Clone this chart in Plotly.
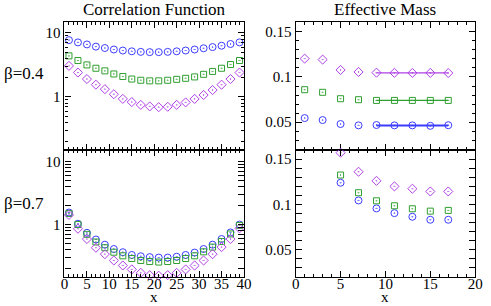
import plotly.graph_objects as go

# ---------------- data ----------------
x_corr = [1, 3, 5, 7, 9, 11, 13, 15, 17, 19, 21, 23, 25, 27, 29, 31, 33, 35, 37, 39]

corr04_blue = [7.7, 7.1, 6.6, 6.1, 5.8, 5.5, 5.3, 5.15, 5.05, 5.0, 5.0, 5.05, 5.15, 5.3, 5.5, 5.75, 6.0, 6.3, 6.7, 7.1]
corr04_green = [4.37, 3.7, 3.16, 2.8, 2.55, 2.28, 2.08, 1.9, 1.82, 1.78, 1.78, 1.82, 1.88, 1.95, 2.05, 2.25, 2.5, 2.8, 3.2, 3.7]
corr04_purple = [3.05, 2.4, 1.9, 1.55, 1.32, 1.1, 0.93, 0.83, 0.75, 0.71, 0.69, 0.70, 0.75, 0.82, 0.93, 1.07, 1.28, 1.55, 1.9, 2.4]

corr07_blue = [1.55, 1.03, 0.74, 0.58, 0.48, 0.41, 0.365, 0.33, 0.315, 0.305, 0.30, 0.30, 0.31, 0.33, 0.36, 0.41, 0.48, 0.59, 0.75, 1.0]
corr07_green = [1.5, 1.0, 0.70, 0.53, 0.43, 0.365, 0.32, 0.29, 0.27, 0.26, 0.255, 0.26, 0.27, 0.29, 0.32, 0.37, 0.44, 0.54, 0.71, 0.97]
corr07_purple = [1.42, 0.86, 0.59, 0.43, 0.34, 0.27, 0.225, 0.195, 0.172, 0.158, 0.155, 0.158, 0.172, 0.195, 0.225, 0.27, 0.34, 0.44, 0.59, 0.87]

x_mass04 = [1, 3, 5, 7, 9, 11, 13, 15, 17]
mass04_blue = [0.0544, 0.0522, 0.0478, 0.0463, 0.0467, 0.0463, 0.0463, 0.0458, 0.0465]
mass04_green = [0.0859, 0.0830, 0.0759, 0.0748, 0.0740, 0.0740, 0.0740, 0.0740, 0.0740]
mass04_purple = [0.1204, 0.1193, 0.1078, 0.1056, 0.1048, 0.1046, 0.1045, 0.1045, 0.1044]

fit_x = [9, 17]
fit04_blue = 0.0463
fit04_green = 0.0740
fit04_purple = 0.1045

x_mass07 = [5, 7, 9, 11, 13, 15, 17]
mass07_blue = [0.1239, 0.1044, 0.0956, 0.0904, 0.0864, 0.0831, 0.0831]
mass07_green = [0.1324, 0.1129, 0.1040, 0.0985, 0.0952, 0.0926, 0.0934]
mass07_purple = [0.157, 0.136, 0.126, 0.1199, 0.1173, 0.1143, 0.1143]

x_ticks_corr = [0, 5, 10, 15, 20, 25, 30, 35, 40]
x_ticks_mass = [0, 5, 10, 15, 20]
y_ticks_mass = [0.05, 0.1, 0.15]
y_ticklabels_mass = ["0.05", "0.1", "0.15"]
y_ticks_corr = [1, 10]
y_ticklabels_corr = ["1", "10"]

BLUE = "#3c3cff"
GREEN = "#2f9f2f"
PURPLE = "#b040e6"
FONT = "Liberation Serif"

W, H = 491, 306


def px_x(a, b):
    return [a / W, b / W]


def px_y(top, bottom):
    return [1 - bottom / H, 1 - top / H]


fig = go.Figure()


def pts(x, y, color, symbol, size, xa, ya):
    fig.add_trace(go.Scatter(
        x=x, y=y, mode="markers", xaxis=xa, yaxis=ya, showlegend=False,
        marker=dict(symbol=symbol, size=size, color=color,
                    line=dict(color=color, width=1)),
        cliponaxis=False,
    ))


CS, SS, DS = 7, 6, 7

# top-left
pts(x_corr, corr04_blue, BLUE, "circle-open-dot", CS, "x", "y")
pts(x_corr, corr04_green, GREEN, "square-open-dot", SS, "x", "y")
pts(x_corr, corr04_purple, PURPLE, "diamond-open-dot", DS, "x", "y")
# bottom-left
pts(x_corr, corr07_blue, BLUE, "circle-open-dot", CS, "x3", "y3")
pts(x_corr, corr07_green, GREEN, "square-open-dot", SS, "x3", "y3")
pts(x_corr, corr07_purple, PURPLE, "diamond-open-dot", DS, "x3", "y3")

# top-right fits
for val, col, w in [(fit04_blue, BLUE, 2), (fit04_green, GREEN, 1.2), (fit04_purple, PURPLE, 1.2)]:
    fig.add_trace(go.Scatter(x=fit_x, y=[val, val], mode="lines", xaxis="x2", yaxis="y2",
                             showlegend=False, line=dict(color=col, width=w)))
pts(x_mass04, mass04_blue, BLUE, "circle-open-dot", CS, "x2", "y2")
pts(x_mass04, mass04_green, GREEN, "square-open-dot", SS, "x2", "y2")
pts(x_mass04, mass04_purple, PURPLE, "diamond-open-dot", DS, "x2", "y2")
# bottom-right
pts(x_mass07, mass07_blue, BLUE, "circle-open-dot", CS, "x4", "y4")
pts(x_mass07, mass07_green, GREEN, "square-open-dot", SS, "x4", "y4")
pts(x_mass07, mass07_purple, PURPLE, "diamond-open-dot", DS, "x4", "y4")

tickfont = dict(family=FONT, size=15, color="black")

common = dict(showline=True, linecolor="black", linewidth=1.2, mirror="allticks",
              ticks="inside", ticklen=6, tickcolor="black", tickwidth=1,
              showgrid=False, zeroline=False, tickfont=tickfont)

log_minor = [v * m for v in (0.1, 1, 10) for m in range(2, 10)]
minor_lin = dict(ticks="inside", ticklen=3, tickcolor="black")

lx = px_x(62, 246)
rx = px_x(299, 483)
ty = px_y(22, 150)
by = px_y(150, 277)
label_pos = 1 - 273 / H  # tick labels sit a little closer to the bottom axis

label_axis = dict(showline=False, ticks="", showgrid=False, zeroline=False,
                  tickfont=tickfont, anchor="free", position=label_pos)

fig.update_layout(
    width=W, height=H, margin=dict(l=0, r=0, t=0, b=0),
    plot_bgcolor="white", paper_bgcolor="white",
    xaxis=dict(domain=lx, range=[0, 40], anchor="y", tickvals=x_ticks_corr, showticklabels=False,
               minor=dict(dtick=1, **minor_lin), **common),
    yaxis=dict(domain=ty, type="log", range=[-0.83, 1.17], anchor="x",
               tickvals=y_ticks_corr, ticktext=y_ticklabels_corr,
               minor=dict(tickvals=log_minor, **minor_lin), **common),
    xaxis2=dict(domain=rx, range=[0, 20], anchor="y2", tickvals=x_ticks_mass, showticklabels=False,
                minor=dict(dtick=1, **minor_lin), **common),
    yaxis2=dict(domain=ty, range=[0.019, 0.161], anchor="x2",
                tickvals=y_ticks_mass, ticktext=y_ticklabels_mass,
                minor=dict(dtick=0.01, **minor_lin), **common),
    xaxis3=dict(domain=lx, range=[0, 40], anchor="y3", tickvals=x_ticks_corr, showticklabels=False,
                minor=dict(dtick=1, **minor_lin), **common),
    yaxis3=dict(domain=by, type="log", range=[-0.83, 1.18], anchor="x3",
                tickvals=y_ticks_corr, ticktext=y_ticklabels_corr,
                minor=dict(tickvals=log_minor, **minor_lin), **common),
    xaxis4=dict(domain=rx, range=[0, 20], anchor="y4", tickvals=x_ticks_mass, showticklabels=False,
                minor=dict(dtick=1, **minor_lin), **common),
    yaxis4=dict(domain=by, range=[0.02, 0.16], anchor="x4",
                tickvals=y_ticks_mass, ticktext=y_ticklabels_mass,
                minor=dict(dtick=0.01, **minor_lin), **common),
    xaxis5=dict(domain=lx, range=[0, 40], overlaying="x3", tickvals=x_ticks_corr, **label_axis),
    xaxis6=dict(domain=rx, range=[0, 20], overlaying="x4", tickvals=x_ticks_mass, **label_axis),
)

# invisible traces so the label axes are drawn
fig.add_trace(go.Scatter(x=[0], y=[1], xaxis="x5", yaxis="y3", mode="markers",
                         marker=dict(opacity=0), showlegend=False, hoverinfo="skip"))
fig.add_trace(go.Scatter(x=[0], y=[0.05], xaxis="x6", yaxis="y4", mode="markers",
                         marker=dict(opacity=0), showlegend=False, hoverinfo="skip"))

ann_font = dict(family=FONT, size=17, color="black")
annotations = [
    dict(text="Correlation Function", x=154 / W, y=1 - 10 / H, yanchor="middle"),
    dict(text="Effective Mass", x=391 / W, y=1 - 10 / H, yanchor="middle"),
    dict(text="β=0.4", x=20 / W, y=1 - 73 / H, yanchor="middle"),
    dict(text="β=0.7", x=20 / W, y=1 - 203 / H, yanchor="middle"),
    dict(text="x", x=154 / W, y=0, yanchor="bottom", font=dict(family=FONT, size=15, color="black")),
    dict(text="x", x=391 / W, y=0, yanchor="bottom", font=dict(family=FONT, size=15, color="black")),
]
for a in annotations:
    a.setdefault("font", ann_font)
    fig.add_annotation(xref="paper", yref="paper", showarrow=False,
                       xanchor="center", borderpad=0, **a)

fig.write_html("out.html", config={"displayModeBar": False},
               post_script="document.body.style.margin='0px';")
